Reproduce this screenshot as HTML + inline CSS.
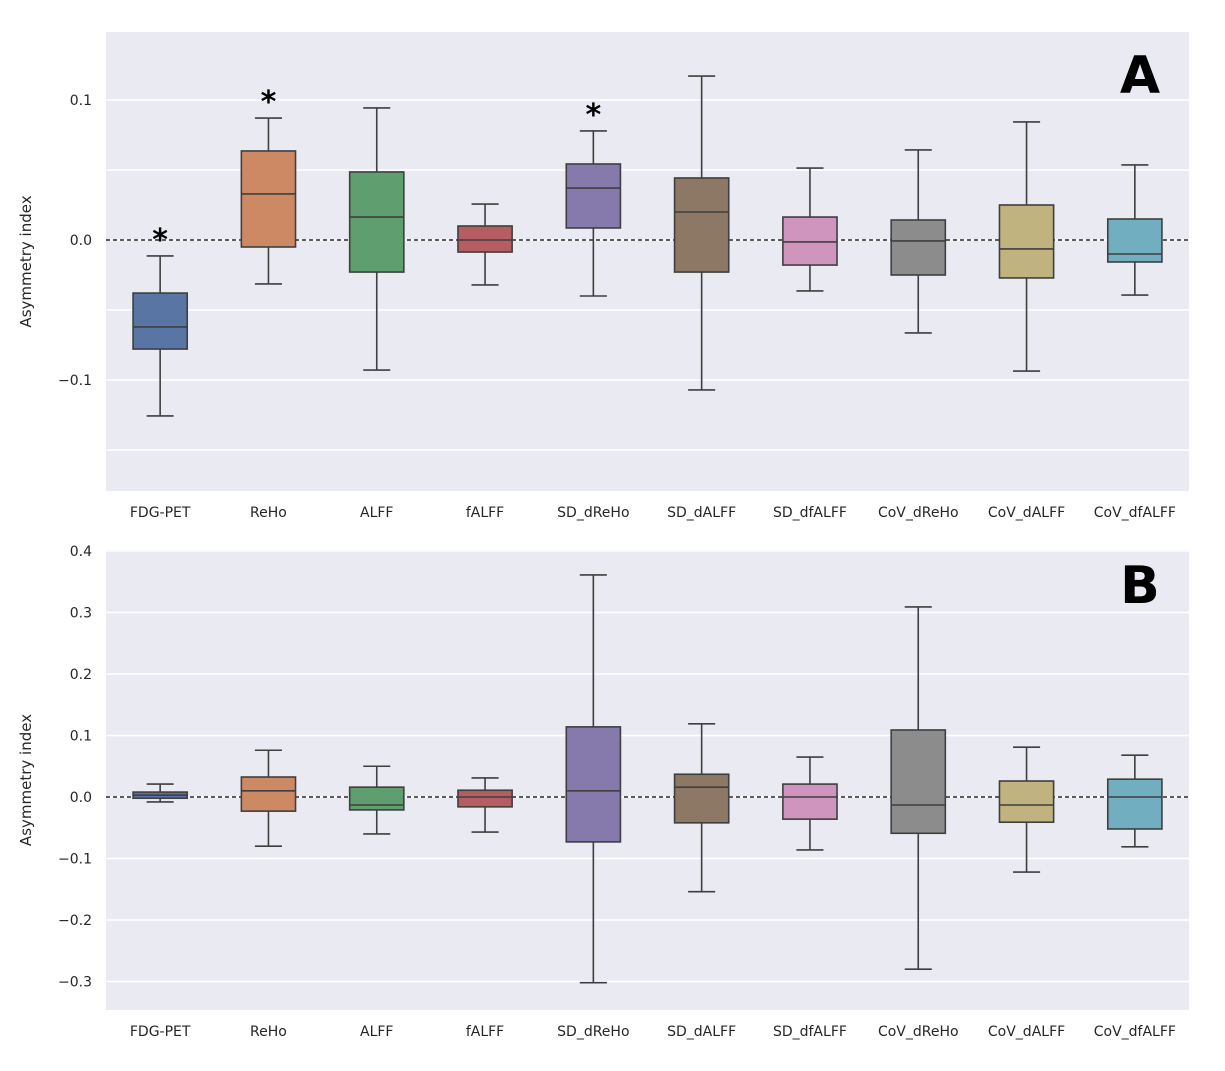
<!DOCTYPE html>
<html><head><meta charset="utf-8"><style>
html,body{margin:0;padding:0;background:#fff;}
svg{display:block;font-family:"DejaVu Sans","Liberation Sans",sans-serif;}
</style></head><body>
<svg id="chart" width="1225" height="1071"></svg>
<script>
const categories=["FDG-PET","ReHo","ALFF","fALFF","SD_dReHo","SD_dALFF","SD_dfALFF","CoV_dReHo","CoV_dALFF","CoV_dfALFF"];
const colors=["#5975a4","#cc8963","#5f9e6e","#b55d60","#857aab","#8d7866","#d095bf","#8c8c8c","#c1b37f","#71aec0"];
// [whiskerLow, q1, median, q3, whiskerHigh]
const statsA=[[-0.1257,-0.0779,-0.0621,-0.0379,-0.0114],[-0.0314,-0.005,0.0329,0.0636,0.0871],[-0.0929,-0.0229,0.0164,0.0486,0.0943],[-0.0321,-0.0086,0.0,0.010,0.0257],[-0.040,0.0086,0.0371,0.0543,0.0779],[-0.1071,-0.0229,0.020,0.0443,0.1171],[-0.0364,-0.0179,-0.0014,0.0164,0.0514],[-0.0664,-0.025,-0.0007,0.0143,0.0643],[-0.0936,-0.0271,-0.0064,0.025,0.0843],[-0.0393,-0.0157,-0.010,0.015,0.0536]];
const statsB=[[-0.008,-0.002,0.003,0.008,0.021],[-0.080,-0.023,0.010,0.0325,0.076],[-0.060,-0.021,-0.013,0.016,0.050],[-0.057,-0.016,0.0,0.011,0.031],[-0.302,-0.073,0.010,0.114,0.361],[-0.154,-0.042,0.016,0.037,0.119],[-0.086,-0.036,0.0,0.021,0.065],[-0.280,-0.059,-0.013,0.109,0.309],[-0.122,-0.041,-0.013,0.026,0.081],[-0.081,-0.052,0.0,0.029,0.068]];
const sigA=[true,true,false,false,true,false,false,false,false,false];
const ticksA=[0.1,0.0,-0.1];const gridA=[0.15,0.1,0.05,0,-0.05,-0.1,-0.15];
const ticksB=[0.4,0.3,0.2,0.1,0.0,-0.1,-0.2,-0.3];
const NS="http://www.w3.org/2000/svg";
const svg=document.getElementById('chart');
function mk(t,a,p){const e=document.createElementNS(NS,t);for(const k in a)e.setAttribute(k,a[k]);(p||svg).appendChild(e);return e;}
function panel(cfg){
 const {x0,x1,y0,y1,vTop,vBot,stats,ticks,grid,label,labelY,name,sig}=cfg;
 const g=mk('g',{});
 
 
 const y=v=>y0+(vTop-v)/(vTop-vBot)*(y1-y0);
 const band=(x1-x0)/categories.length;
 const xc=i=>x0+band*(i+0.5);
 const bg=mk('rect',{x:x0,y:y0,width:x1-x0,height:y1-y0,fill:'#eaeaf2'},g);
 
 
 grid.forEach(v=>{const yy=y(v);if(yy>=y0&&yy<=y1){const l=mk('line',{x1:x0,x2:x1,y1:yy,y2:yy,stroke:'#fff','stroke-width':1.5},g);}});
 ticks.forEach(v=>{const t=mk('text',{x:x0-14,y:y(v)+5,'text-anchor':'end','font-size':14,fill:'#262626'},g);t.textContent=(v<0?'\u22120':'0')+'.'+Math.abs(v).toFixed(1).split('.')[1];});
 const z=mk('line',{x1:x0,x2:x1,y1:y(0),y2:y(0),stroke:'#000','stroke-width':1.2,'stroke-dasharray':'4,3'},g);
 
 stats.forEach((s,i)=>{
  const c=xc(i),w=band*0.5,cap=band*0.25;
  const bg2=mk('g',{},g);
  
  
  const st={stroke:'#3f3f3f','stroke-width':1.6};
  mk('line',Object.assign({x1:c,x2:c,y1:y(s[4]),y2:y(s[3])},st),bg2);
  mk('line',Object.assign({x1:c,x2:c,y1:y(s[1]),y2:y(s[0])},st),bg2);
  mk('line',Object.assign({x1:c-cap/2,x2:c+cap/2,y1:y(s[4]),y2:y(s[4])},st),bg2);
  mk('line',Object.assign({x1:c-cap/2,x2:c+cap/2,y1:y(s[0]),y2:y(s[0])},st),bg2);
  mk('rect',Object.assign({x:c-w/2,y:y(s[3]),width:w,height:y(s[1])-y(s[3]),fill:colors[i]},st),bg2);
  mk('line',Object.assign({x1:c-w/2,x2:c+w/2,y1:y(s[2]),y2:y(s[2])},st),bg2);
  if(sig&&sig[i]){const a=mk('text',{x:c,y:y(s[4])-6,'text-anchor':'middle','font-size':30,'font-weight':'bold',fill:'#000'},g);a.textContent='*';}
  const t=mk('text',{x:c,y:y1+26,'text-anchor':'middle','font-size':14,fill:'#262626'},g);t.textContent=categories[i];
  
 });
 const yt=mk('text',{x:0,y:0,'text-anchor':'middle','font-size':15,fill:'#262626',transform:`translate(31,${(y0+y1)/2}) rotate(-90)`},g);
 yt.textContent='Asymmetry index';
 const pl=mk('text',{x:1140,y:labelY,'text-anchor':'middle','font-size':52,'font-weight':'bold',fill:'#000'},g);
 pl.textContent=label;
}
panel({x0:106,x1:1189,y0:32,y1:491,vTop:0.14857,vBot:-0.17929,stats:statsA,ticks:ticksA,grid:gridA,label:'A',labelY:93,name:'panel-a',sig:sigA});
panel({x0:106,x1:1189,y0:550,y1:1010,vTop:0.40163,vBot:-0.34634,stats:statsB,ticks:ticksB,grid:ticksB,label:'B',labelY:603,name:'panel-b',sig:null});
</script>
</body></html>
